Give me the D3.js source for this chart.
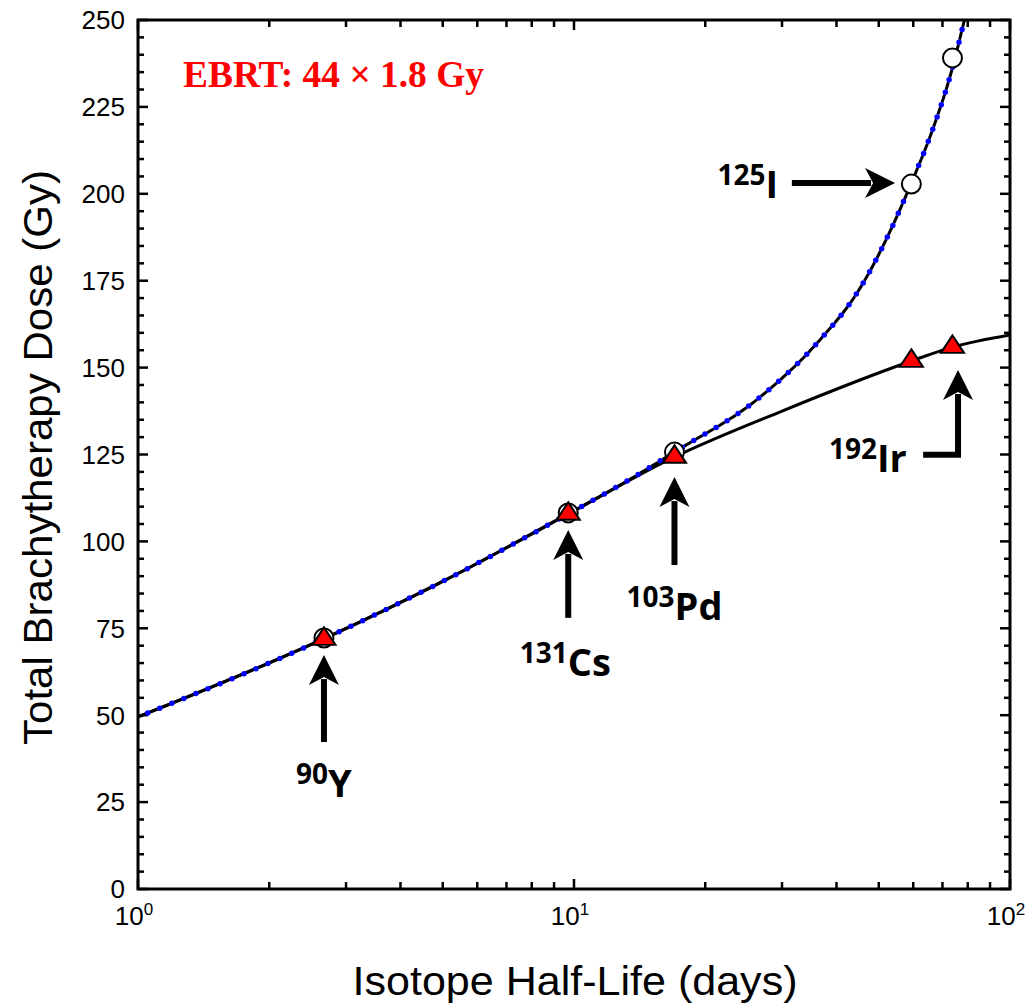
<!DOCTYPE html>
<html>
<head>
<meta charset="utf-8">
<script src="https://cdn.jsdelivr.net/npm/d3@7"></script>
<style>
  html, body { margin: 0; padding: 0; background: #fff; }
  svg { display: block; }
</style>
</head>
<body>
<svg id="chart" width="1034" height="1008"></svg>
<script>
// ---------------- data ----------------
// Solid curve – x = half-life (days), y = total dose (Gy)
const solidHalfLife = [1, 2.67, 5, 9.7, 17, 30, 59.4, 73.8, 100];
const solidDose     = [49.5, 72.0, 88.5, 107.9, 124.3, 137.5, 151.9, 155.9, 159.4];

// Dashed (blue dotted) curve
const dashedHalfLife = [1, 2.67, 5, 9.7, 13, 17, 26.7, 36.6, 44.6, 59.4, 67.3, 72.8, 78.8];
const dashedDose     = [49.5, 72.0, 88.5, 107.9, 116.8, 125.7, 141.5, 157.9, 171.5, 203.1, 220.4, 233.6, 250.6];

// Isotope markers
const circleHalfLife   = [2.67, 9.7, 17, 59.4, 73.8];
const circleDose       = [72.2, 108.2, 125.7, 202.8, 239.1];
const triangleHalfLife = [2.67, 9.7, 17, 59.4, 73.8];
const triangleDose     = [71.9, 107.9, 124.3, 151.9, 155.9];

// Isotope labels
const isotopeMass   = ["90", "131", "103", "125", "192"];
const isotopeSymbol = ["Y", "Cs", "Pd", "I", "Ir"];

// Axis tick labels
const yTickValues = [0, 25, 50, 75, 100, 125, 150, 175, 200, 225, 250];
const xTickValues = [1, 10, 100];
const xTickExponent = ["0", "1", "2"];

const annotationText = "EBRT: 44 \u00D7 1.8 Gy";
const xTitle = "Isotope Half-Life (days)";
const yTitle = "Total Brachytherapy Dose (Gy)";

// ---------------- layout ----------------
const L = 138, R = 1010, T = 20, B = 889;

const svg = d3.select("#chart");
const x = d3.scaleLog().domain([1, 100]).range([L, R]);
const y = d3.scaleLinear().domain([0, 250]).range([B, T]);

svg.append("defs").append("clipPath").attr("id", "clip")
  .append("rect").attr("x", L).attr("y", T).attr("width", R - L).attr("height", B - T);

// ---------------- ticks ----------------
const tickG = svg.append("g").attr("stroke", "#000").attr("stroke-width", 2.5);
d3.range(0, 251, 5).forEach(v => {
  const major = v % 25 === 0;
  const len = major ? 10 : 6;
  tickG.append("line").attr("x1", L).attr("x2", L + len).attr("y1", y(v)).attr("y2", y(v));
  tickG.append("line").attr("x1", R).attr("x2", R - len).attr("y1", y(v)).attr("y2", y(v));
});
x.ticks().forEach(v => {
  const major = Math.abs(Math.log10(v) - Math.round(Math.log10(v))) < 1e-9;
  const len = major ? 10 : 7;
  tickG.append("line").attr("x1", x(v)).attr("x2", x(v)).attr("y1", B).attr("y2", B - len);
  tickG.append("line").attr("x1", x(v)).attr("x2", x(v)).attr("y1", T).attr("y2", T + len);
});

svg.append("rect").attr("x", L).attr("y", T).attr("width", R - L).attr("height", B - T)
  .attr("fill", "none").attr("stroke", "#000").attr("stroke-width", 3);

// tick labels
const yLab = svg.append("g").attr("font-family", "Liberation Sans, Arial, sans-serif")
  .attr("font-size", 26).attr("fill", "#000").attr("text-anchor", "end");
yTickValues.forEach(v => {
  yLab.append("text").attr("x", L - 13).attr("y", y(v)).attr("dy", "0.36em").text(v);
});
const xLab = svg.append("g").attr("font-family", "Liberation Sans, Arial, sans-serif").attr("fill", "#000");
xTickValues.forEach((v, i) => {
  const t = xLab.append("text").attr("x", x(v) - 4).attr("y", B + 36).attr("text-anchor", "middle").attr("font-size", 26);
  t.append("tspan").text("10");
  t.append("tspan").attr("font-size", 17).attr("dy", -10).text(xTickExponent[i]);
});

// axis titles
svg.append("text").attr("x", (L + R) / 2 + 1).attr("y", 995).attr("text-anchor", "middle")
  .attr("font-family", "Liberation Sans, Arial, sans-serif").attr("font-size", 41)
  .attr("textLength", 445).attr("lengthAdjust", "spacingAndGlyphs").text(xTitle);
svg.append("text").attr("transform", `translate(52,${(170 + 745) / 2}) rotate(-90)`)
  .attr("text-anchor", "middle")
  .attr("font-family", "Liberation Sans, Arial, sans-serif").attr("font-size", 41)
  .attr("textLength", 575).attr("lengthAdjust", "spacingAndGlyphs").text(yTitle);

// ---------------- curves ----------------
const plot = svg.append("g").attr("clip-path", "url(#clip)");
const line = d3.line().x(d => x(d[0])).y(d => y(d[1])).curve(d3.curveMonotoneX);
const solidPts = solidHalfLife.map((t, i) => [t, solidDose[i]]);
const dashedPts = dashedHalfLife.map((t, i) => [t, dashedDose[i]]);

plot.append("path").attr("d", line(dashedPts)).attr("fill", "none")
  .attr("stroke", "#000").attr("stroke-width", 3).attr("stroke-dasharray", "8,5");
plot.append("path").attr("d", line(solidPts)).attr("fill", "none")
  .attr("stroke", "#000").attr("stroke-width", 3);
plot.append("path").attr("d", line(dashedPts)).attr("fill", "none")
  .attr("stroke", "#0000ff").attr("stroke-width", 5.5).attr("stroke-linecap", "round")
  .attr("stroke-dasharray", "0,13").attr("stroke-dashoffset", 2.5);

// ---------------- markers ----------------
plot.selectAll("circle.iso").data(circleHalfLife.map((t, i) => [t, circleDose[i]]))
  .enter().append("circle").attr("class", "iso")
  .attr("cx", d => x(d[0])).attr("cy", d => y(d[1])).attr("r", 9.5)
  .attr("fill", "#fff").attr("stroke", "#000").attr("stroke-width", 2);

const tri = d3.symbol().type(d3.symbolTriangle).size(210);
plot.selectAll("path.tri").data(triangleHalfLife.map((t, i) => [t, triangleDose[i]]))
  .enter().append("path").attr("class", "tri")
  .attr("d", tri).attr("transform", d => `translate(${x(d[0])},${y(d[1])}) scale(1.05,0.92)`)
  .attr("fill", "#ff0000").attr("stroke", "#000").attr("stroke-width", 2);

// ---------------- arrows ----------------
const arrowG = svg.append("g");
function head(tx, ty, dir) {
  let pts;
  if (dir === "up") pts = [[tx, ty], [tx + 15, ty + 30], [tx, ty + 22], [tx - 15, ty + 30]];
  else pts = [[tx, ty], [tx - 30, ty - 15], [tx - 22, ty], [tx - 30, ty + 15]];
  arrowG.append("path").attr("d", "M" + pts.map(p => p.join(",")).join("L") + "Z").attr("fill", "#000");
}
function upArrow(hl, fromDose, tipDose) {
  const px = x(hl), y0 = y(fromDose), y1 = y(tipDose);
  arrowG.append("line").attr("x1", px).attr("x2", px).attr("y1", y0).attr("y2", y1 + 24)
    .attr("stroke", "#000").attr("stroke-width", 6);
  head(px, y1, "up");
}
upArrow(2.67, 42.3, 67.3);
upArrow(9.7, 78.0, 103.3);
upArrow(17, 93.2, 118.5);
(function () {
  const x0 = x(31.6), x1 = x(54.5), py = y(203.1);
  arrowG.append("line").attr("x1", x0).attr("x2", x1 - 24).attr("y1", py).attr("y2", py)
    .attr("stroke", "#000").attr("stroke-width", 6);
  head(x1, py, "right");
})();
(function () {
  const x0 = x(63.2), xc = x(76.0), yc = y(124.9), yt = y(149.3);
  arrowG.append("path").attr("d", `M${x0},${yc}L${xc},${yc}L${xc},${yt + 24}`)
    .attr("fill", "none").attr("stroke", "#000").attr("stroke-width", 6).attr("stroke-linejoin", "miter");
  head(xc, yt, "up");
})();

// ---------------- isotope labels ----------------
const labG = svg.append("g").attr("font-family", "Open Sans, Noto Sans, sans-serif")
  .attr("font-weight", 700).attr("fill", "#000");
function isoLabel(i, hl, dose, anchor) {
  const t = labG.append("text").attr("x", x(hl)).attr("y", y(dose)).attr("text-anchor", anchor);
  t.append("tspan").attr("font-size", 28).attr("dy", -13).text(isotopeMass[i]);
  t.append("tspan").attr("font-size", 38).attr("dy", 13).text(isotopeSymbol[i]);
}
isoLabel(0, 2.67, 26.5, "middle");
isoLabel(1, 9.55, 61.3, "middle");
isoLabel(2, 17, 77.4, "middle");
isoLabel(3, 29.4, 198.8, "end");
isoLabel(4, 58.0, 120.0, "end");

// ---------------- EBRT annotation ----------------
svg.append("text").attr("x", 183).attr("y", 87)
  .attr("font-family", "Liberation Serif, Times New Roman, serif").attr("font-weight", 700)
  .attr("font-size", 37).attr("fill", "#ff0000")
  .attr("textLength", 301).attr("lengthAdjust", "spacingAndGlyphs").text(annotationText);
</script>
</body>
</html>
